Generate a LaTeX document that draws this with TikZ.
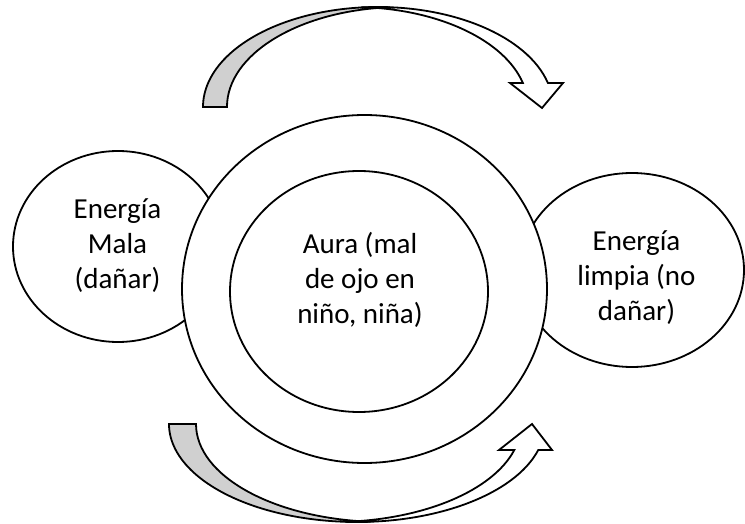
\documentclass[tikz,border=0pt]{standalone}
\usepackage{fontspec}
\setmainfont{Carlito}
\usetikzlibrary{shapes.geometric}
\definecolor{bandgray}{RGB}{208,208,208}
\tikzset{
  outline/.style={draw=black, line width=1.8pt, fill=white},
  oval/.style={outline, ellipse, inner sep=0pt, outer sep=0pt},
  label text/.style={align=center, font=\fontsize{29pt}{35pt}\selectfont, inner sep=0pt},
  band/.style={draw=black, line width=1.8pt, line join=miter},
}
\begin{document}
\begin{tikzpicture}[x=1pt, y=1pt]
  \useasboundingbox (0,0) rectangle (745,523);

  % side energies, partly hidden behind the aura
  \node[oval, minimum width=210pt, minimum height=191pt] (mala) at (118,276.5) {};
  \node[oval, minimum width=224pt, minimum height=194pt] (limpia) at (632,253) {};

  % aura rings
  \node[oval, minimum width=365pt, minimum height=348pt] (aura) at (364.5,234) {};
  \node[oval, minimum width=258pt, minimum height=241pt] (nucleo) at (359,231.5) {};

  % texts
  \node[label text] (tmala) at (117.5,277) {Energía\\Mala\\(dañar)};
  \node[label text] (tlimpia) at (636.5,245) {Energía\\limpia (no\\dañar)};
  \node[label text] (taura) at (360,243) {Aura (mal\\de ojo en\\niño, niña)};

  % upper curved arrow: shaded back band
  \path[band, fill=bandgray] (203,416)
    arc[start angle=180, end angle=86.07, x radius=175, y radius=100]
    arc[start angle=93.93, end angle=180, x radius=175, y radius=100] -- cycle;
  % upper curved arrow: front band with head
  \path[band, fill=white] (365.5,515.74)
    arc[start angle=94.1, end angle=13.89, x radius=175, y radius=100]
    -- (563,440) -- (542,415) -- (510,440) -- (522.88,440)
    arc[start angle=13.89, end angle=85.9, x radius=175, y radius=100] -- cycle;

  % lower curved arrow: shaded back band
  \path[band, fill=bandgray] (169,99)
    arc[start angle=180, end angle=274.12, x radius=188, y radius=98]
    arc[start angle=265.88, end angle=180, x radius=188, y radius=98] -- cycle;
  % lower curved arrow: front band with head
  \path[band, fill=white] (345,1.2)
    arc[start angle=266.34, end angle=344.62, x radius=188, y radius=98]
    -- (552,73) -- (532,99) -- (499,73) -- (514.3,73)
    arc[start angle=344.62, end angle=273.66, x radius=188, y radius=98] -- cycle;
\end{tikzpicture}
\end{document}
